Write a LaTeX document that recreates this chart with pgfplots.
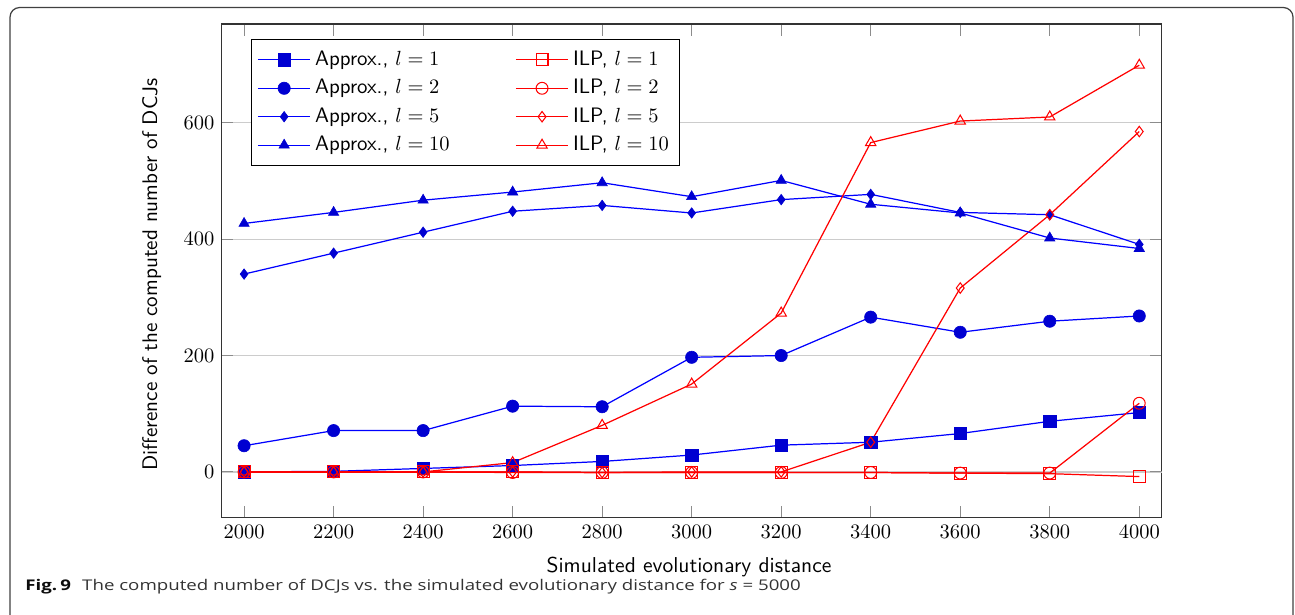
\documentclass[border=0pt]{standalone}
\usepackage{fontspec}
\usepackage{pgfplots}
\pgfplotsset{compat=1.18}
\newfontfamily\capfont{Open Sans}
\pgfplotsset{longleg/.style={legend image code/.code={\draw[mark repeat=2,mark phase=2,##1] plot coordinates {(0cm,0cm) (0.45cm,0cm) (0.9cm,0cm)};}}}
\begin{document}
\begin{tikzpicture}[x=0.488pt,y=0.488pt]
\useasboundingbox (0,0) rectangle (1295,614);
\draw[black!75, line width=0.6pt, rounded corners=4.7pt] (10,-4) -- (10,606.5) -- (1293,606.5) -- (1293,-4);
\begin{axis}[
  at={(108.19pt,46.99pt)}, anchor=south west,
  width=458.7pt, height=240.9pt, scale only axis,
  xmin=1950, xmax=4050, ymin=-78.7, ymax=769.7,
  xtick={2000,2200,...,4000},
  ytick={200,400,600},
  extra y ticks={0},
  extra y tick style={grid style={black!70, line width=0.8pt}},
  ymajorgrids=true,
  major grid style={black!20, line width=0.6pt},
  tick style={black!45, line width=0.5pt},
  major tick length=5.6pt,
  axis line style={black!80, line width=0.6pt},
  xticklabel style={/pgf/number format/1000 sep={}},
  tick label style={font=\normalsize},
  legend columns=2,
  legend cell align=left,
  legend style={at={(0.0309,0.969)}, anchor=north west, font=\sffamily\fontsize{10.2}{12}\selectfont,
    /tikz/every even column/.append style={column sep=30pt},
    row sep=1.3pt, inner xsep=3pt, inner ysep=3.5pt},
  every axis plot post/.append style={line width=0.6pt},
]
\addplot[longleg, color=blue, draw=blue, mark=square*, mark size=3.0pt, mark options={fill=blue!82!black, draw=blue!82!black, line width=0.3pt}] coordinates {(2000,0)(2200,1)(2400,6)(2600,11)(2800,18)(3000,29)(3200,46)(3400,51)(3600,66)(3800,87)(4000,102)};
\addlegendentry{Approx., $l=1$}
\addplot[longleg, color=red, draw=red, mark=square, mark size=2.9pt, mark options={draw=red, line width=0.5pt}] coordinates {(2000,0)(2200,0)(2400,0)(2600,0)(2800,-1)(3000,-1)(3200,-1)(3400,-1)(3600,-2)(3800,-3)(4000,-8)};
\addlegendentry{ILP, $l=1$}
\addplot[longleg, color=blue, draw=blue, mark=*, mark size=3.0pt, mark options={fill=blue!82!black, draw=blue!82!black, line width=0.3pt}] coordinates {(2000,45)(2200,71)(2400,71)(2600,113)(2800,112)(3000,197)(3200,200)(3400,266)(3600,240)(3800,259)(4000,268)};
\addlegendentry{Approx., $l=2$}
\addplot[longleg, color=red, draw=red, mark=o, mark size=2.9pt, mark options={draw=red, line width=0.5pt}] coordinates {(2000,0)(2200,0)(2400,0)(2600,-1)(2800,-1)(3000,-1)(3200,-1)(3400,-1)(3600,-2)(3800,-2)(4000,118)};
\addlegendentry{ILP, $l=2$}
\addplot[longleg, color=blue, draw=blue, mark=diamond*, mark size=2.55pt, mark options={fill=blue!82!black, draw=blue!82!black, line width=0.3pt}] coordinates {(2000,340)(2200,376)(2400,412)(2600,448)(2800,458)(3000,445)(3200,468)(3400,477)(3600,446)(3800,442)(4000,391)};
\addlegendentry{Approx., $l=5$}
\addplot[longleg, color=red, draw=red, mark=diamond, mark size=2.55pt, mark options={draw=red, line width=0.5pt}] coordinates {(2000,0)(2200,0)(2400,0)(2600,0)(2800,-1)(3000,0)(3200,0)(3400,51)(3600,316)(3800,442)(4000,585)};
\addlegendentry{ILP, $l=5$}
\addplot[longleg, color=blue, draw=blue, mark=triangle*, mark size=2.9pt, mark options={fill=blue!82!black, draw=blue!82!black, line width=0.3pt}] coordinates {(2000,427)(2200,446)(2400,467)(2600,481)(2800,497)(3000,473)(3200,501)(3400,460)(3600,445)(3800,402)(4000,384)};
\addlegendentry{Approx., $l=10$}
\addplot[longleg, color=red, draw=red, mark=triangle, mark size=2.9pt, mark options={draw=red, line width=0.5pt}] coordinates {(2000,0)(2200,0)(2400,0)(2600,16)(2800,80)(3000,151)(3200,273)(3400,566)(3600,603)(3800,610)(4000,699)};
\addlegendentry{ILP, $l=10$}
\end{axis}
\node[font=\sffamily\fontsize{10.5}{12}\selectfont, anchor=base] at (689,42) {Simulated evolutionary distance};
\node[font=\sffamily\fontsize{10.3}{12}\selectfont, rotate=90, anchor=base] at (157,339.5) {Difference of the computed number of DCJs};
\node[anchor=base west, inner sep=0pt] at (25,24) {\scalebox{1.266}[1]{\capfont\fontsize{7.2}{8}\selectfont\color{black!80}{\bfseries\color{black!95}Fig.\,9}\hspace{0.6em}The computed number of DCJs vs. the simulated evolutionary distance for {\itshape s} = 5000}};
\end{tikzpicture}
\end{document}
